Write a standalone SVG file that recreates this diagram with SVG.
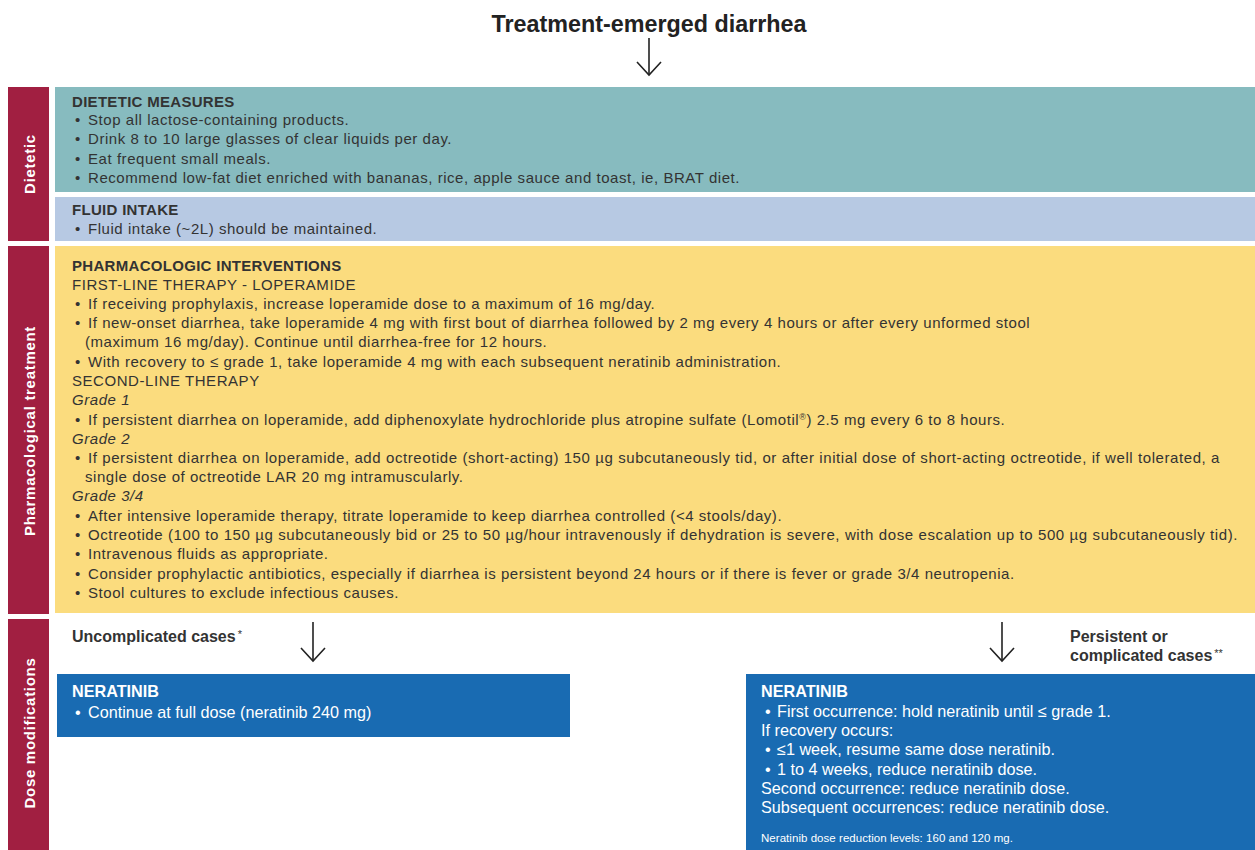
<svg xmlns="http://www.w3.org/2000/svg" width="1255" height="850" viewBox="0 0 1255 850">
<defs>
<marker id="chev" markerUnits="userSpaceOnUse" markerWidth="30" markerHeight="30" viewBox="0 0 30 30" refX="15" refY="15" orient="auto">
<path d="M2,3 L15,15 L2,27" fill="none" stroke="#222" stroke-width="1.6"/>
</marker>
</defs>
<style>
text{font-family:"Liberation Sans",Arial,sans-serif;fill:#333;font-size:15px;letter-spacing:0.55px}
.b{font-weight:bold;letter-spacing:0.3px}
.i{font-style:italic}
.ttl{font-size:23px;font-weight:bold;fill:#222;letter-spacing:0}
.side{fill:#a11f41}
.sl{fill:#fff;font-weight:bold;font-size:15px;letter-spacing:0.7px;text-anchor:middle}
.w{fill:#fff;font-size:16.2px;letter-spacing:0}
.lab{font-weight:bold;font-size:16px;letter-spacing:0;fill:#333}
.ast{font-weight:normal;font-size:11px}
.sup{font-size:9px}
.sm{font-size:11.5px}
.conn{stroke:#222;stroke-width:1.6;fill:none;marker-end:url(#chev)}
</style>
<rect width="1255" height="850" fill="#fff"/>

<g id="title">
<text x="649" y="32" class="ttl" text-anchor="middle" textLength="315" lengthAdjust="spacingAndGlyphs">Treatment-emerged diarrhea</text>
</g>

<g id="side-dietetic">
<rect class="side" x="8" y="87" width="41" height="154"/>
<text class="sl" transform="translate(35,164) rotate(-90)">Dietetic</text>
</g>
<g id="side-pharm">
<rect class="side" x="8" y="246" width="41" height="368"/>
<text class="sl" transform="translate(35,431) rotate(-90)">Pharmacological treatment</text>
</g>
<g id="side-dose">
<rect class="side" x="8" y="619" width="41" height="231"/>
<text class="sl" transform="translate(35,733) rotate(-90)">Dose modifications</text>
</g>

<g id="dietetic-measures">
<rect x="55" y="87" width="1200" height="105" fill="#87bbbf"/>
<text x="72" y="107" class="b">DIETETIC MEASURES</text>
<text y="125"><tspan x="75">•</tspan><tspan x="88">Stop all lactose-containing products.</tspan></text>
<text y="144"><tspan x="75">•</tspan><tspan x="88">Drink 8 to 10 large glasses of clear liquids per day.</tspan></text>
<text y="164"><tspan x="75">•</tspan><tspan x="88">Eat frequent small meals.</tspan></text>
<text y="183"><tspan x="75">•</tspan><tspan x="88">Recommend low-fat diet enriched with bananas, rice, apple sauce and toast, ie, BRAT diet.</tspan></text>
</g>

<g id="fluid-intake">
<rect x="55" y="197" width="1200" height="44" fill="#b7c9e3"/>
<text x="72" y="215" class="b">FLUID INTAKE</text>
<text y="234"><tspan x="75">•</tspan><tspan x="88">Fluid intake (~2L) should be maintained.</tspan></text>
</g>

<g id="pharmacologic">
<rect x="55" y="246" width="1200" height="367" fill="#fbdc7e"/>
<text x="72" y="271" class="b">PHARMACOLOGIC INTERVENTIONS</text>
<text x="72" y="290">FIRST-LINE THERAPY - LOPERAMIDE</text>
<text y="309"><tspan x="75">•</tspan><tspan x="88">If receiving prophylaxis, increase loperamide dose to a maximum of 16 mg/day.</tspan></text>
<text y="328"><tspan x="75">•</tspan><tspan x="88">If new-onset diarrhea, take loperamide 4 mg with first bout of diarrhea followed by 2 mg every 4 hours or after every unformed stool</tspan></text>
<text x="85" y="347">(maximum 16 mg/day). Continue until diarrhea-free for 12 hours.</text>
<text y="367"><tspan x="75">•</tspan><tspan x="88">With recovery to ≤ grade 1, take loperamide 4 mg with each subsequent neratinib administration.</tspan></text>
<text x="72" y="386">SECOND-LINE THERAPY</text>
<text x="72" y="405" class="i">Grade 1</text>
<text y="425"><tspan x="75">•</tspan><tspan x="88">If persistent diarrhea on loperamide, add diphenoxylate hydrochloride plus atropine sulfate (Lomotil<tspan class="sup" dy="-5">®</tspan><tspan dy="5">) 2.5 mg every 6 to 8 hours.</tspan></tspan></text>
<text x="72" y="444" class="i">Grade 2</text>
<text y="463"><tspan x="75">•</tspan><tspan x="88" textLength="1132" lengthAdjust="spacing">If persistent diarrhea on loperamide, add octreotide (short-acting) 150 µg subcutaneously tid, or after initial dose of short-acting octreotide, if well tolerated, a</tspan></text>
<text x="85" y="482">single dose of octreotide LAR 20 mg intramuscularly.</text>
<text x="72" y="501" class="i">Grade 3/4</text>
<text y="521"><tspan x="75">•</tspan><tspan x="88">After intensive loperamide therapy, titrate loperamide to keep diarrhea controlled (&lt;4 stools/day).</tspan></text>
<text y="540"><tspan x="75">•</tspan><tspan x="88" textLength="1150" lengthAdjust="spacing">Octreotide (100 to 150 µg subcutaneously bid or 25 to 50 µg/hour intravenously if dehydration is severe, with dose escalation up to 500 µg subcutaneously tid).</tspan></text>
<text y="559"><tspan x="75">•</tspan><tspan x="88">Intravenous fluids as appropriate.</tspan></text>
<text y="579"><tspan x="75">•</tspan><tspan x="88">Consider prophylactic antibiotics, especially if diarrhea is persistent beyond 24 hours or if there is fever or grade 3/4 neutropenia.</tspan></text>
<text y="598"><tspan x="75">•</tspan><tspan x="88">Stool cultures to exclude infectious causes.</tspan></text>
</g>

<g id="label-uncomplicated">
<text x="72" y="642" class="lab">Uncomplicated cases<tspan class="ast" dx="2" dy="-4">*</tspan></text>
</g>
<g id="label-persistent">
<text x="1070" y="642" class="lab">Persistent or</text>
<text x="1070" y="661" class="lab">complicated cases<tspan class="ast" dx="2" dy="-4">**</tspan></text>
</g>

<g id="neratinib-full">
<rect x="57" y="674" width="513" height="63" fill="#196bb2"/>
<text x="72" y="697" class="w" font-weight="bold" style="font-weight:bold">NERATINIB</text>
<text y="718" class="w"><tspan x="75">•</tspan><tspan x="88">Continue at full dose (neratinib 240 mg)</tspan></text>
</g>

<g id="neratinib-hold">
<rect x="746" y="674" width="509" height="176" fill="#196bb2"/>
<text x="761" y="697" class="w" style="font-weight:bold">NERATINIB</text>
<text y="717" class="w"><tspan x="765">•</tspan><tspan x="777">First occurrence: hold neratinib until ≤ grade 1.</tspan></text>
<text x="761" y="736" class="w">If recovery occurs:</text>
<text y="755" class="w"><tspan x="765">•</tspan><tspan x="777">≤1 week, resume same dose neratinib.</tspan></text>
<text y="775" class="w"><tspan x="765">•</tspan><tspan x="777">1 to 4 weeks, reduce neratinib dose.</tspan></text>
<text x="761" y="794" class="w">Second occurrence: reduce neratinib dose.</text>
<text x="761" y="813" class="w">Subsequent occurrences: reduce neratinib dose.</text>
<text x="761" y="842" class="w sm" textLength="252" lengthAdjust="spacing">Neratinib dose reduction levels: 160 and 120 mg.</text>
</g>

<g id="connectors">
<line class="conn" x1="649" y1="38" x2="649" y2="75"/>
<line class="conn" x1="313" y1="622" x2="313" y2="661"/>
<line class="conn" x1="1002" y1="622" x2="1002" y2="661"/>
</g>
</svg>
